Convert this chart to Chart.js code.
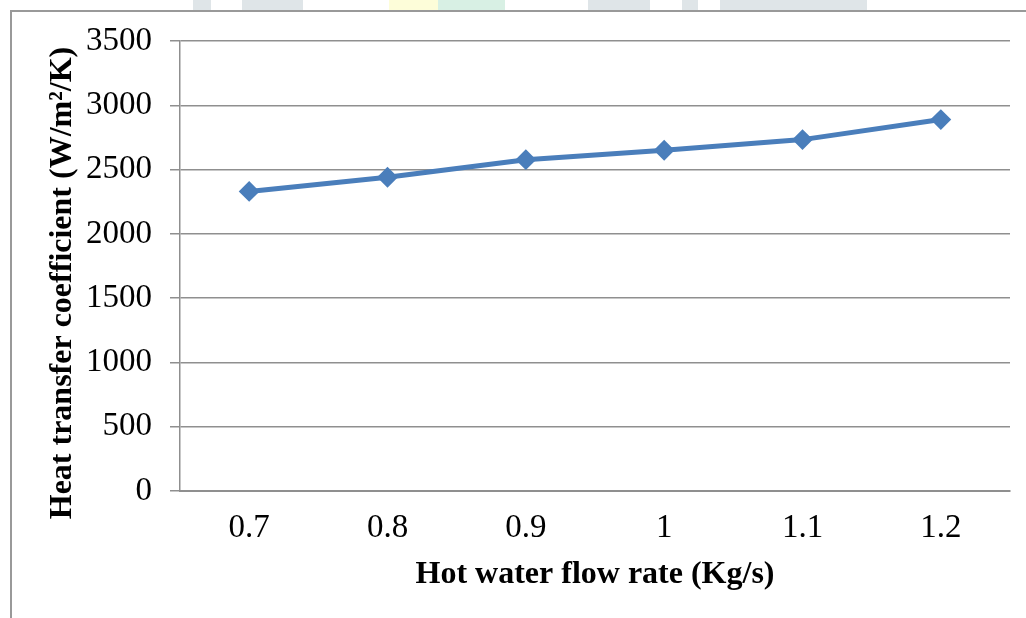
<!DOCTYPE html>
<html>
<head>
<meta charset="utf-8">
<script src="https://cdn.jsdelivr.net/npm/chart.js@4/dist/chart.umd.min.js"></script>
<style>
  html, body { margin: 0; padding: 0; background: #fff; }
  #wrap { position: relative; width: 1026px; height: 618px; overflow: hidden; }
  #frame { position: absolute; left: 10px; top: 10px; width: 1100px; height: 700px;
           border-left: 2px solid #999; border-top: 2px solid #999; box-sizing: border-box; }
  .wm { position: absolute; top: 0; height: 10px; }
  canvas { position: absolute; left: 0; top: 0; }
</style>
</head>
<body>
<div id="wrap">
  <div class="wm" style="left:193px;width:18px;background:#dfe5e8"></div>
  <div class="wm" style="left:242px;width:61px;background:#dfe5e8"></div>
  <div class="wm" style="left:389px;width:49px;background:#fdfdd9"></div>
  <div class="wm" style="left:438px;width:67px;background:#d8f0e4"></div>
  <div class="wm" style="left:588px;width:62px;background:#dfe5e8"></div>
  <div class="wm" style="left:682px;width:16px;background:#dfe5e8"></div>
  <div class="wm" style="left:720px;width:147px;background:#dfe5e8"></div>
  <div id="frame"></div>
  <canvas id="c" width="1026" height="618"></canvas>
</div>
<script>
const categories = ['0.7', '0.8', '0.9', '1', '1.1', '1.2'];
const heatTransfer = [2330, 2440, 2577, 2650, 2733, 2889];
const yTitle = 'Heat transfer coefficient (W/m²/K)';
const xTitle = 'Hot water flow rate (Kg/s)';

const FONT = "'Liberation Serif', 'Times New Roman', serif";
const GRID = '#8f8f8f';
const BLUE = '#4a7ebb';

// y-axis title drawn slightly below the axis centre, as in the reference
const yTitlePlugin = {
  id: 'yTitle',
  afterDraw(chart) {
    const ctx = chart.ctx;
    const area = chart.chartArea;
    ctx.save();
    ctx.translate(63, (area.top + area.bottom) / 2 + 17);
    ctx.rotate(-Math.PI / 2);
    ctx.font = 'bold 32px ' + FONT;
    ctx.fillStyle = '#000';
    ctx.textAlign = 'center';
    ctx.textBaseline = 'middle';
    ctx.fillText(yTitle, 0, 0);
    ctx.restore();
  }
};

new Chart(document.getElementById('c'), {
  type: 'line',
  data: {
    labels: categories,
    datasets: [{
      data: heatTransfer,
      borderColor: BLUE,
      backgroundColor: BLUE,
      borderWidth: 5,
      tension: 0,
      pointStyle: 'rectRot',
      pointRadius: 9,
      pointBorderWidth: 2,
      pointBackgroundColor: BLUE,
      pointBorderColor: BLUE
    }]
  },
  options: {
    responsive: false,
    animation: false,
    devicePixelRatio: 1,
    layout: { padding: { left: 0, right: 16, top: 41, bottom: 0 } },
    plugins: { legend: { display: false }, tooltip: { enabled: false } },
    scales: {
      x: {
        offset: true,
        grid: { display: true, drawOnChartArea: false, drawTicks: false, color: GRID, lineWidth: 1.5 },
        border: { display: true, color: GRID, width: 2 },
        ticks: { color: '#000', padding: 18, font: { family: FONT, size: 33 }, maxRotation: 0 },
        title: { display: true, text: xTitle, color: '#000',
                 font: { family: FONT, size: 32, weight: 'bold' }, padding: { top: 0, bottom: 24 } },
        afterFit(scale) { scale.height = 127; }
      },
      y: {
        min: 0, max: 3500,
        grid: { color: GRID, lineWidth: 1.5, tickLength: 10, drawTicks: true, tickColor: GRID },
        border: { display: true, color: GRID, width: 1.5 },
        ticks: { stepSize: 500, color: '#000', padding: 18, font: { family: FONT, size: 33 },
                 callback: (v) => String(v) },
        title: { display: false },
        afterFit(scale) { scale.width = 180; }
      }
    }
  },
  plugins: [yTitlePlugin]
});
</script>
</body>
</html>
